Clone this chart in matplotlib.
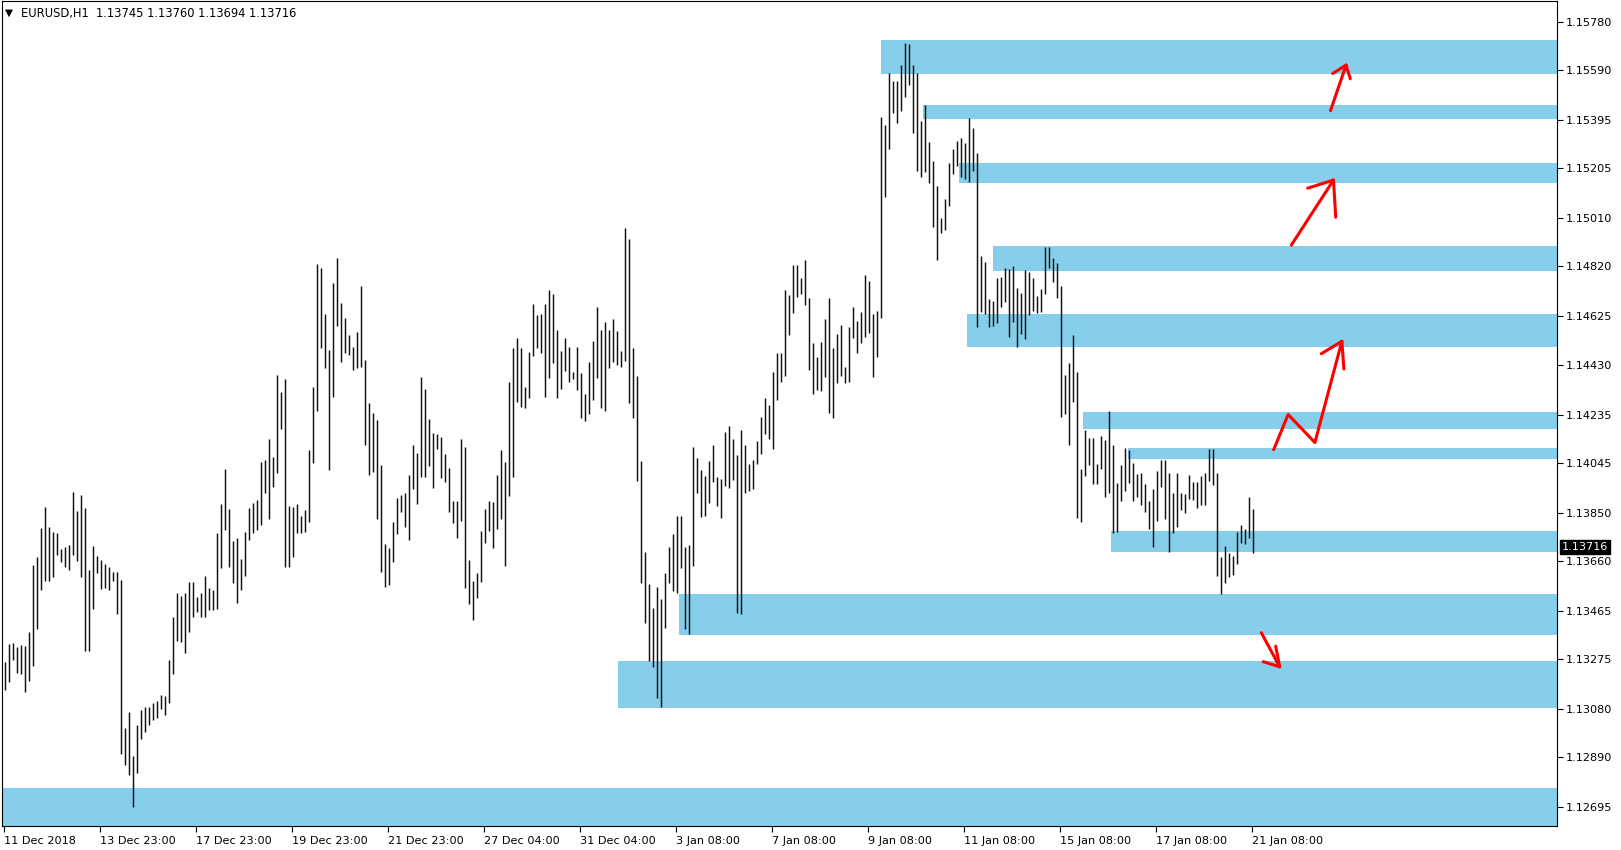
import numpy as np
import matplotlib
matplotlib.use("Agg")
import matplotlib.pyplot as plt
from matplotlib.patches import Rectangle

# EURUSD H1 at a time (high / low of each pair)
bar_high = [
    1.13265, 1.13335, 1.13337, 1.13324, 1.13331, 1.13327, 1.13381, 1.13645, 1.13676, 1.13790,
    1.13875, 1.13796, 1.13777, 1.13773, 1.13710, 1.13715, 1.13724, 1.13934, 1.13859, 1.13921,
    1.13871, 1.13626, 1.13720, 1.13681, 1.13665, 1.13649, 1.13636, 1.13619, 1.13618, 1.13586,
    1.13006, 1.13068, 1.12895, 1.13016, 1.13075, 1.13086, 1.13088, 1.13102, 1.13112, 1.13134,
    1.13130, 1.13272, 1.13442, 1.13534, 1.13524, 1.13534, 1.13580, 1.13580, 1.13521, 1.13537,
    1.13602, 1.13554,
    1.13547, 1.13772, 1.13885, 1.14024, 1.13867, 1.13741, 1.13753, 1.13669, 1.13775, 1.13868,
    1.13888, 1.13901, 1.14052, 1.14058, 1.14139, 1.14071, 1.14392, 1.14327, 1.14375, 1.13877,
    1.13875, 1.13885, 1.13838, 1.13862, 1.14097, 1.14346, 1.14829, 1.14812, 1.14632, 1.14490,
    1.14755, 1.14851, 1.14677, 1.14615, 1.14550, 1.14504, 1.14560, 1.14742, 1.14451, 1.14281,
    1.14244, 1.14215, 1.14038, 1.13728, 1.13711, 1.13816, 1.13907, 1.13920, 1.13927, 1.13999,
    1.14117, 1.14087,
    1.14383, 1.14337, 1.14219, 1.14163, 1.14160, 1.14150, 1.14080, 1.14025, 1.13897, 1.13897,
    1.14139, 1.14108, 1.13665, 1.13582, 1.13612, 1.13779, 1.13865, 1.13897, 1.13894, 1.13999,
    1.14097, 1.14049, 1.14363, 1.14497, 1.14539, 1.14499, 1.14346, 1.14481, 1.14670, 1.14628,
    1.14634, 1.14670, 1.14726, 1.14709, 1.14569, 1.14486, 1.14539, 1.14503, 1.14405, 1.14501,
    1.14399, 1.14316, 1.14444, 1.14526, 1.14661, 1.14569, 1.14599, 1.14569, 1.14612, 1.14565,
    1.14486, 1.14969,
    1.14929, 1.14497, 1.14388, 1.14055, 1.13698, 1.13571, 1.13475, 1.13558, 1.13510, 1.13615,
    1.13715, 1.13767, 1.13838, 1.13838, 1.13717, 1.13724, 1.14108, 1.14065, 1.14019, 1.13995,
    1.14055, 1.14117, 1.13990, 1.13982, 1.14170, 1.14192, 1.14139, 1.14078, 1.14176, 1.14117,
    1.14042, 1.14058, 1.14134, 1.14228, 1.14301, 1.14274, 1.14405, 1.14477, 1.14477, 1.14726,
    1.14707, 1.14825, 1.14825, 1.14772, 1.14844, 1.14694, 1.14519, 1.14464, 1.14523, 1.14611,
    1.14694, 1.14497,
    1.14553, 1.14589, 1.14425, 1.14582, 1.14661, 1.14606, 1.14641, 1.14785, 1.14763, 1.14632,
    1.14645, 1.15405, 1.15375, 1.15578, 1.15549, 1.15549, 1.15611, 1.15696, 1.15694, 1.15611,
    1.15581, 1.15392, 1.15454, 1.15310, 1.15235, 1.15135, 1.15008, 1.15083, 1.15227, 1.15283,
    1.15314, 1.15323, 1.15303, 1.15401, 1.15362, 1.15266, 1.14860, 1.14838, 1.14690, 1.14685,
    1.14772, 1.14779, 1.14812, 1.14808, 1.14821, 1.14733, 1.14716, 1.14805, 1.14799, 1.14772,
    1.14703, 1.14729, 1.14897,
    1.14897, 1.14851, 1.14834, 1.14742, 1.14392, 1.14438, 1.14550, 1.14405, 1.14021, 1.14176,
    1.14143, 1.14143, 1.14042, 1.14152, 1.14137, 1.14252, 1.14117, 1.13966, 1.14038, 1.14104,
    1.14097, 1.14045, 1.14003, 1.14006, 1.13964, 1.13898, 1.13943, 1.14016, 1.14058, 1.14058,
    1.14006, 1.13930, 1.14006, 1.13927, 1.13924, 1.13999, 1.13973, 1.13973, 1.13995, 1.14008,
    1.14100, 1.14100, 1.14008, 1.13678, 1.13720, 1.13694, 1.13681, 1.13776, 1.13803, 1.13786,
    1.13914, 1.13864,
]
bar_low = [
    1.13154, 1.13187, 1.13272, 1.13220, 1.13217, 1.13147, 1.13191, 1.13248, 1.13394, 1.13547,
    1.13584, 1.13584, 1.13600, 1.13685, 1.13659, 1.13639, 1.13626, 1.13685, 1.13662, 1.13600,
    1.13307, 1.13307, 1.13471, 1.13613, 1.13550, 1.13554, 1.13547, 1.13584, 1.13453, 1.12902,
    1.12859, 1.12820, 1.12695, 1.12829, 1.12960, 1.12988, 1.13016, 1.13036, 1.13043, 1.13078,
    1.13056, 1.13102, 1.13217, 1.13348, 1.13344, 1.13298, 1.13381, 1.13442, 1.13462, 1.13440,
    1.13442, 1.13469,
    1.13468, 1.13471, 1.13635, 1.13783, 1.13639, 1.13573, 1.13497, 1.13547, 1.13602, 1.13744,
    1.13770, 1.13783, 1.13803, 1.13927, 1.13825, 1.13953, 1.14006, 1.14179, 1.13639, 1.13639,
    1.13678, 1.13770, 1.13770, 1.13776, 1.13816, 1.14048, 1.14252, 1.14497, 1.14418, 1.14019,
    1.14307, 1.14585, 1.14445, 1.14477, 1.14471, 1.14414, 1.14418, 1.14425, 1.14117, 1.13999,
    1.14012, 1.13825, 1.13619, 1.13557, 1.13567, 1.13658, 1.13767, 1.13855, 1.13793, 1.13744,
    1.13943, 1.13885,
    1.13992, 1.13992, 1.14036, 1.13949, 1.14101, 1.13986, 1.13973, 1.13852, 1.13809, 1.13750,
    1.13818, 1.13553, 1.13490, 1.13429, 1.13517, 1.13579, 1.13730, 1.13779, 1.13713, 1.13787,
    1.13826, 1.13642, 1.13918, 1.13992, 1.14287, 1.14268, 1.14264, 1.14300, 1.14468, 1.14499,
    1.14477, 1.14307, 1.14379, 1.14438, 1.14300, 1.14337, 1.14408, 1.14366, 1.14376, 1.14333,
    1.14222, 1.14211, 1.14241, 1.14294, 1.14379, 1.14261, 1.14250, 1.14421, 1.14444, 1.14431,
    1.14425, 1.14447,
    1.14283, 1.14222, 1.13977, 1.13576, 1.13416, 1.13269, 1.13246, 1.13121, 1.13088, 1.13396,
    1.13573, 1.13544, 1.13537, 1.13632, 1.13392, 1.13373, 1.13641, 1.13927, 1.13833, 1.13838,
    1.13888, 1.13973, 1.13877, 1.13829, 1.13956, 1.13947, 1.13979, 1.13458, 1.13453, 1.13930,
    1.13938, 1.13943, 1.14042, 1.14082, 1.14160, 1.14139, 1.14100, 1.14294, 1.14366, 1.14388,
    1.14550, 1.14637, 1.14698, 1.14711, 1.14667, 1.14412, 1.14318, 1.14333, 1.14331, 1.14383,
    1.14242, 1.14222,
    1.14362, 1.14388, 1.14360, 1.14366, 1.14536, 1.14480, 1.14519, 1.14543, 1.14556, 1.14386,
    1.14462, 1.14615, 1.15091, 1.15283, 1.15421, 1.15384, 1.15432, 1.15487, 1.15532, 1.15342,
    1.15196, 1.15172, 1.15192, 1.15148, 1.14973, 1.14844, 1.14949, 1.14962, 1.15057, 1.15183,
    1.15214, 1.15169, 1.15162, 1.15152, 1.15196, 1.14580, 1.14641, 1.14632, 1.14580, 1.14585,
    1.14595, 1.14658, 1.14681, 1.14543, 1.14602, 1.14504, 1.14553, 1.14533, 1.14628, 1.14645,
    1.14635, 1.14641, 1.14711,
    1.14812, 1.14759, 1.14694, 1.14228, 1.14239, 1.14117, 1.14287, 1.13829, 1.13816, 1.13995,
    1.14038, 1.13964, 1.13964, 1.14021, 1.13914, 1.13930, 1.13772, 1.13776, 1.13898, 1.13938,
    1.13969, 1.13898, 1.13914, 1.13881, 1.13855, 1.13786, 1.13715, 1.13820, 1.13953, 1.13825,
    1.13698, 1.13772, 1.13796, 1.13862, 1.13851, 1.13903, 1.13901, 1.13868, 1.13881, 1.13881,
    1.13977, 1.13960, 1.13602, 1.13531, 1.13576, 1.13599, 1.13606, 1.13649, 1.13730, 1.13728,
    1.13750, 1.13694,
]

date_labels = ["11 Dec 2018", "13 Dec 23:00", "17 Dec 23:00", "19 Dec 23:00", "21 Dec 23:00",
               "27 Dec 04:00", "31 Dec 04:00", "3 Jan 08:00", "7 Jan 08:00", "9 Jan 08:00",
               "11 Jan 08:00", "15 Jan 08:00", "17 Jan 08:00", "21 Jan 08:00"]
bars_per_label = 48

price_ticks = [1.15780, 1.15590, 1.15395, 1.15205, 1.15010, 1.14820, 1.14625, 1.14430, 1.14235,
               1.14045, 1.13850, 1.13660, 1.13465, 1.13275, 1.13080, 1.12890, 1.12695]
last_price = 1.13716
header = "EURUSD,H1  1.13745 1.13760 1.13694 1.13716"

# zones: top, bottom, first hourly bar
zone_top = [1.15709, 1.15455, 1.15226, 1.14901, 1.14633, 1.14247, 1.14105, 1.13779, 1.13531, 1.13269, 1.12769]
zone_bottom = [1.15577, 1.15400, 1.15148, 1.14802, 1.14503, 1.14179, 1.14063, 1.13698, 1.13371, 1.13084, 1.12560]
zone_start = [438.5, 459.5, 477.7, 494.7, 481.5, 539.6, 562.0, 553.7, 337.6, 307.0, -2.0]

# hand drawn red arrows (bar, price): shaft, then head
arrow_shafts = [
    [(663.4, 1.15432), (671.2, 1.15611)],
    [(643.8, 1.14903), (664.9, 1.15159)],
    [(635.0, 1.14099), (642.2, 1.14237), (655.6, 1.14127), (669.1, 1.14525)],
    [(628.8, 1.13379), (638.0, 1.13245)],
]
arrow_heads = [
    [(664.5, 1.15578), (671.2, 1.15611), (673.3, 1.15557)],
    [(652.0, 1.15127), (664.9, 1.15159), (666.0, 1.15013)],
    [(658.8, 1.14476), (669.1, 1.14525), (670.1, 1.14416)],
    [(636.0, 1.13326), (638.0, 1.13245), (629.8, 1.13265)],
]

W, H = 1621, 850
fig = plt.figure(figsize=(W / 100, H / 100), dpi=100)
fig.patch.set_facecolor("white")
ax = fig.add_axes([2 / W, 24 / H, 1555 / W, 825 / H])

zone_color = "#87CEEB"
for top, bot, start in zip(zone_top, zone_bottom, zone_start):
    ax.add_patch(Rectangle((start, bot), 1000, top - bot, facecolor=zone_color,
                           edgecolor="none", zorder=1))

# each entry covers two hourly bars
xpos = np.arange(len(bar_high)) * 2 + 0.5
ax.vlines(xpos, bar_low, bar_high, color="#111111", linewidth=1.05, zorder=3)

for shaft, head in zip(arrow_shafts, arrow_heads):
    sx, sy = zip(*shaft)
    hx, hy = zip(*head)
    ax.plot(sx, sy, color="red", lw=2.2, solid_capstyle="round", solid_joinstyle="round", zorder=4)
    ax.plot(hx, hy, color="red", lw=2.2, solid_capstyle="round", solid_joinstyle="round", zorder=4)

ax.set_xlim(-0.85, 776.65)
ax.set_ylim(1.12619, 1.15863)

ax.yaxis.tick_right()
ax.set_yticks(price_ticks)
ax.set_yticklabels(["%.5f" % p for p in price_ticks])
ax.set_xticks(np.arange(len(date_labels)) * bars_per_label)
ax.set_xticklabels(date_labels)
for lbl in ax.get_xticklabels():
    lbl.set_horizontalalignment("left")
ax.tick_params(axis="both", direction="out", length=4, width=0.8, labelsize=8.1,
               colors="black", pad=2)
ax.tick_params(axis="x", pad=3)
for sp in ax.spines.values():
    sp.set_linewidth(0.8)
    sp.set_color("black")

ax.annotate("%.5f" % last_price, xy=(1, last_price), xycoords=("axes fraction", "data"),
            xytext=(5, 0), textcoords="offset pixels", ha="left", va="center",
            color="white", fontsize=8.1, zorder=10, annotation_clip=False,
            bbox=dict(boxstyle="square,pad=0.15", fc="black", ec="black"))

fig.text(5 / W, 1 - 13 / H, "\u25bc", fontsize=7.5, va="center", ha="left")
fig.text(21 / W, 1 - 13 / H, header, fontsize=8.3, va="center", ha="left")

fig.savefig("out.png", dpi=100)
